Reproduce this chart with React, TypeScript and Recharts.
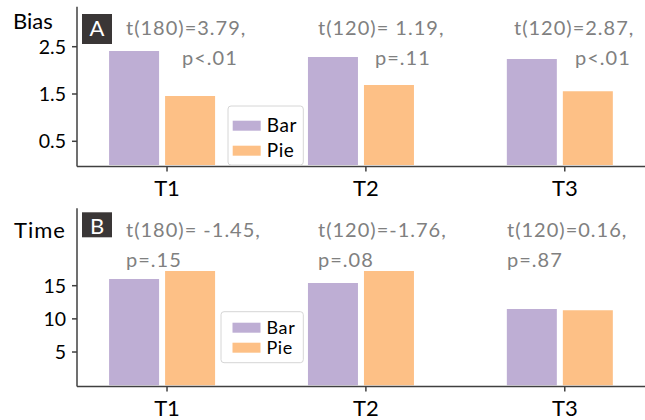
import React from 'react';
import { BarChart, Bar, XAxis, YAxis } from 'recharts';

const categories = ['T1', 'T2', 'T3'];
const seriesNames = ['Bar', 'Pie'];
const biasBar = [2.41, 2.28, 2.24];
const biasPie = [1.46, 1.69, 1.56];
const timeBar = [16.0, 15.4, 11.5];
const timePie = [17.2, 17.2, 11.3];
const biasTicks = [0.5, 1.5, 2.5];
const timeTicks = [5, 10, 15];
const biasStats = [
  ['t(180)=3.79,', 'p<.01'],
  ['t(120)= 1.19,', 'p=.11'],
  ['t(120)=2.87,', 'p<.01'],
];
const timeStats = [
  ['t(180)= -1.45,', 'p=.15'],
  ['t(120)=-1.76,', 'p=.08'],
  ['t(120)=0.16,', 'p=.87'],
];

const COLORS: Record<string, string> = { Bar: '#beaed4', Pie: '#fdc086' };
const FONT = 'Lato, "Open Sans", sans-serif';
const AXIS = '#404040';
const GRAY = '#808080';

const biasData = categories.map((c, i) => ({ x: i, cat: c, Bar: biasBar[i], Pie: biasPie[i] }));
const timeData = categories.map((c, i) => ({ x: i, cat: c, Bar: timeBar[i], Pie: timePie[i] }));

const CatTick = (props: any) => {
  const { x, y, payload } = props;
  const cx = x + 4.5;
  return (
    <g>
      <line x1={cx} x2={cx} y1={y - 5} y2={y} stroke={AXIS} strokeWidth={1.5} />
      <text x={cx} y={y + 24.5} textAnchor="middle" fontSize={22} fontFamily={FONT} fill="#000">
        {categories[payload.value]}
      </text>
    </g>
  );
};

type PanelProps = {
  data: any[];
  domain: [number, number];
  ticks: number[];
  height: number;
  top: number;
  xAxisHeight: number;
};

const Panel = ({ data, domain, ticks, height, top, xAxisHeight }: PanelProps) => (
  <BarChart
    width={645}
    height={height}
    data={data}
    margin={{ top, right: 0, bottom: 0, left: 0 }}
    barSize={50}
    barGap={6}
  >
    <XAxis
      xAxisId="top"
      orientation="top"
      dataKey="x"
      type="number"
      domain={[-0.43, 2.426]}
      allowDataOverflow
      height={0}
      tick={false}
      tickLine={false}
      axisLine={{ stroke: AXIS, strokeWidth: 1.5 }}
    />
    <XAxis
      dataKey="x"
      type="number"
      domain={[-0.43, 2.426]}
      allowDataOverflow
      ticks={[0, 1, 2]}
      interval={0}
      height={xAxisHeight}
      tickSize={5}
      tickMargin={0}
      tickLine={false}
      tick={<CatTick />}
      axisLine={{ stroke: AXIS, strokeWidth: 1.5 }}
    />
    <YAxis
      type="number"
      domain={domain}
      allowDataOverflow
      ticks={ticks}
      width={77}
      tickSize={5}
      tickMargin={6}
      tick={{ fontSize: 19.5, fontFamily: FONT, fill: '#000' }}
      tickLine={{ stroke: AXIS, strokeWidth: 1.5 }}
      axisLine={{ stroke: AXIS, strokeWidth: 1.5 }}
    />
    {seriesNames.map((s) => (
      <Bar key={s} dataKey={s} fill={COLORS[s]} isAnimationActive={false} />
    ))}
  </BarChart>
);

const Legend = ({ x, y, w, h, patchX, rows, fs }: { x: number; y: number; w: number; h: number; patchX: number; rows: number[]; fs: number }) => (
  <g>
    <rect x={x} y={y} width={w} height={h} rx={3} fill="#fff" fillOpacity={0.85} stroke="#d6d6d6" strokeWidth={1} />
    {seriesNames.map((s, i) => (
      <g key={s}>
        <rect x={patchX} y={rows[i]} width={28} height={10} fill={COLORS[s]} />
        <text x={patchX + 34} y={rows[i] + 11} fontSize={fs} letterSpacing={0.6} fontFamily={FONT} fill="#000">
          {s}
        </text>
      </g>
    ))}
  </g>
);

const biasTextPos = [
  [126, 182],
  [318, 375],
  [514, 575],
];
const timeTextPos = [
  [126, 126],
  [318, 318],
  [507, 507],
];

const statStyle = { fontSize: 20, fontFamily: FONT, fill: GRAY, letterSpacing: 1 } as const;

export default function App() {
  return (
    <div style={{ position: 'absolute', left: 0, top: 0, width: 645, height: 420, background: '#fff', overflow: 'hidden' }}>
      <div style={{ position: 'absolute', left: 0, top: 0 }}>
        <Panel data={biasData} domain={[-0.033, 3.346]} ticks={biasTicks} height={205} top={6.7} xAxisHeight={38.5} />
      </div>
      <div style={{ position: 'absolute', left: 0, top: 200 }}>
        <Panel data={timeData} domain={[-0.2, 26.67]} ticks={timeTicks} height={220} top={8.3} xAxisHeight={33.5} />
      </div>
      <svg width={645} height={420} style={{ position: 'absolute', left: 0, top: 0, pointerEvents: 'none' }}>
        <text x={13} y={29} fontSize={22} fontFamily={FONT} fill="#000">Bias</text>
        <text x={14} y={238} fontSize={22} letterSpacing={1} fontFamily={FONT} fill="#000">Time</text>

        <rect x={82} y={14} width={30} height={30} fill="#3a3636" />
        <text x={97} y={36} textAnchor="middle" fontSize={22} fontFamily={FONT} fill="#fff">A</text>
        <rect x={82} y={212.3} width={30} height={25} fill="#3a3636" />
        <text x={97} y={234} textAnchor="middle" fontSize={22} fontFamily={FONT} fill="#fff">B</text>

        {biasStats.map((lines, i) => (
          <g key={'b' + i}>
            <text x={biasTextPos[i][0]} y={35} {...statStyle}>{lines[0]}</text>
            <text x={biasTextPos[i][1]} y={64.5} {...statStyle}>{lines[1]}</text>
          </g>
        ))}
        {timeStats.map((lines, i) => (
          <g key={'t' + i}>
            <text x={timeTextPos[i][0]} y={237} {...statStyle}>{lines[0]}</text>
            <text x={timeTextPos[i][1]} y={267} {...statStyle}>{lines[1]}</text>
          </g>
        ))}

        <Legend x={228} y={106} w={75.3} h={59} patchX={232.7} rows={[120.7, 145.7]} fs={19} />
        <Legend x={221} y={311.7} w={82.3} h={51} patchX={232.5} rows={[322.7, 342.7]} fs={18} />
      </svg>
    </div>
  );
}
